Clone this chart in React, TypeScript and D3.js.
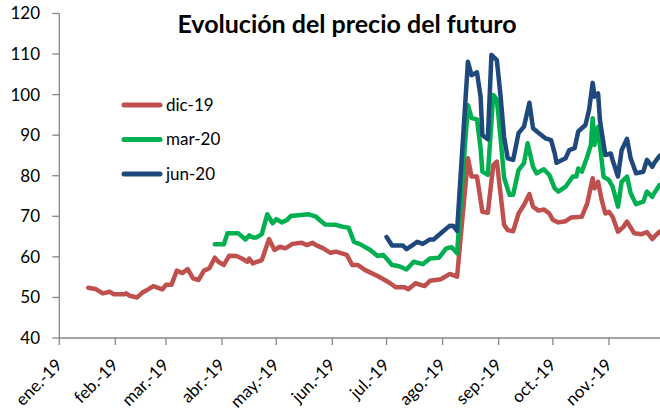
import React from "react";
import * as d3 from "d3";

const title = "Evolución del precio del futuro";
const seriesNames = ["dic-19", "mar-20", "jun-20"];
const seriesColors = ["#C0504D", "#00B050", "#1F497D"];
const monthLabels = ["ene.-19", "feb.-19", "mar.-19", "abr.-19", "may.-19", "jun.-19", "jul.-19", "ago.-19", "sep.-19", "oct.-19", "nov.-19"];
const yTicks = [40, 50, 60, 70, 80, 90, 100, 110, 120];

const dic19Dates = ["01-17","01-21","01-25","01-29","01-31","02-06","02-07","02-09","02-13","02-16","02-18","02-22","02-27","03-01","03-04","03-07","03-10","03-13","03-16","03-19","03-22","03-25","03-28","03-30","04-02","04-05","04-09","04-12","04-15","04-16","04-18","04-23","04-27","04-30","05-03","05-06","05-10","05-15","05-18","05-21","05-23","05-27","05-31","06-03","06-09","06-12","06-15","06-19","06-26","06-30","07-03","07-06","07-11","07-13","07-17","07-22","07-25","07-31","08-05","08-09","08-15","08-17","08-20","08-23","08-26","08-29","08-31","09-02","09-04","09-06","09-09","09-12","09-15","09-18","09-20","09-23","09-26","09-29","10-01","10-04","10-08","10-11","10-17","10-20","10-23","10-24","10-26","10-28","10-30","11-01","11-03","11-06","11-09","11-11","11-15","11-19","11-22","11-25","11-27","11-29"];
const dic19Values = [52.4,52.1,51.0,51.4,50.8,50.8,51.0,50.4,50.0,51.2,51.7,52.8,52.0,53.1,53.1,56.6,56.0,57.0,54.7,54.3,56.6,57.2,59.8,58.8,58.0,60.3,60.2,59.6,58.8,59.6,58.4,59.2,64.4,61.7,62.5,62.1,63.2,63.5,62.9,63.5,62.9,62.1,61.0,61.3,60.5,58.0,58.0,56.8,55.3,54.3,53.5,52.5,52.5,52.0,53.5,52.8,54.1,54.5,55.8,55.1,84.3,79.8,79.8,71.1,70.9,82.6,83.5,75.7,67.9,66.6,66.3,70.7,72.8,75.5,72.4,71.4,71.7,70.7,69.1,68.5,68.8,69.7,69.9,73.2,79.4,76.9,78.5,74.0,70.7,71.1,69.9,66.2,67.4,68.7,65.8,65.6,66.1,64.4,65.4,66.2];

const mar20Dates = ["03-28","04-02","04-04","04-10","04-14","04-16","04-18","04-20","04-23","04-26","04-29","05-01","05-04","05-07","05-09","05-19","05-23","05-25","05-28","06-03","06-07","06-10","06-13","06-16","06-22","06-26","06-29","07-01","07-04","07-08","07-12","07-16","07-21","07-25","07-30","08-03","08-06","08-09","08-15","08-17","08-20","08-22","08-23","08-26","08-29","08-31","09-02","09-04","09-07","09-09","09-12","09-15","09-17","09-20","09-22","09-26","09-29","10-02","10-04","10-08","10-12","10-14","10-15","10-17","10-20","10-22","10-23","10-24","10-26","10-27","10-29","11-01","11-03","11-06","11-08","11-11","11-13","11-16","11-20","11-22","11-25","11-26","11-29"];
const mar20Values = [63.1,63.1,65.8,65.8,64.3,65.3,64.8,64.8,65.6,70.5,68.3,69.3,68.5,69.1,70.1,70.5,69.9,69.1,68.0,67.9,67.4,67.2,63.7,63.2,61.7,60.2,60.5,59.6,58.0,57.7,56.9,58.8,58.2,59.6,59.8,62.1,62.4,60.9,97.4,94.2,93.9,86.8,81.0,80.2,99.9,98.8,89.6,79.5,75.3,75.3,81.4,83.1,88.0,82.2,80.6,81.6,80.2,76.9,76.1,77.3,79.8,79.8,81.8,81.0,84.7,87.6,94.2,87.6,92.1,87.6,79.8,78.9,77.3,72.4,78.5,79.8,75.7,73.0,73.6,76.1,74.8,75.7,77.7];

const jun20Dates = ["07-01","07-04","07-10","07-12","07-15","07-18","07-21","07-25","07-27","08-01","08-05","08-07","08-09","08-15","08-17","08-20","08-22","08-23","08-26","08-28","08-31","09-02","09-04","09-06","09-09","09-12","09-15","09-18","09-20","09-23","09-27","09-30","10-02","10-03","10-08","10-10","10-13","10-15","10-19","10-21","10-23","10-24","10-26","10-27","10-30","11-02","11-03","11-06","11-08","11-11","11-13","11-16","11-20","11-22","11-25","11-26","11-29"];
const jun20Values = [64.9,62.8,62.8,61.9,62.8,63.7,63.2,64.3,64.3,66.2,67.7,67.6,66.4,108.1,104.8,105.5,99.5,90.0,89.0,109.8,108.5,99.9,89.6,84.3,83.9,90.5,92.1,98.0,91.7,90.6,89.2,88.8,85.5,83.2,84.3,86.3,86.8,90.9,92.5,96.2,102.9,99.5,100.3,93.7,85.1,85.5,83.9,79.8,86.3,89.1,84.3,80.6,81.0,83.9,82.2,83.1,84.9];

const parse = d3.timeParse("%Y-%m-%d");
const font = "Lato, 'Open Sans', sans-serif";

export default function App() {
  const W = 660, H = 418;
  const x = d3.scaleTime()
    .domain([new Date(2019, 0, 1), new Date(2019, 11, 1)])
    .range([59.3, 663.2]);
  const y = d3.scaleLinear().domain([40, 120]).range([338, 13.5]);
  const axisColor = "#868686";

  const series = [
    { dates: dic19Dates, values: dic19Values },
    { dates: mar20Dates, values: mar20Values },
    { dates: jun20Dates, values: jun20Values },
  ].map((s, i) => ({
    name: seriesNames[i],
    color: seriesColors[i],
    points: s.dates.map((d, j) => [parse("2019-" + d) as Date, s.values[j]] as [Date, number]),
  }));

  const line = d3.line<[Date, number]>().x(d => x(d[0])).y(d => y(d[1]));
  const monthTicks = d3.timeMonth.range(new Date(2019, 0, 1), new Date(2019, 11, 1));
  const x0 = x.range()[0];
  const y0 = y(40);

  return (
    <div style={{ position: "absolute", left: 0, top: 0 }}>
      <svg width={W} height={H} style={{ display: "block", background: "#fff" }}>
        <defs>
          <clipPath id="plot">
            <rect x={x0} y={0} width={W - x0} height={y0 + 2} />
          </clipPath>
        </defs>
        <text x={347} y={33} textAnchor="middle" fontFamily={font} fontWeight="bold" fontSize={25} fill="#000">{title}</text>

        {/* y axis */}
        <line x1={x0} x2={x0} y1={y(120)} y2={y0} stroke={axisColor} strokeWidth={1.3} />
        {yTicks.map(t => (
          <g key={t}>
            <line x1={x0 - 7} x2={x0} y1={y(t)} y2={y(t)} stroke={axisColor} strokeWidth={1.3} />
            <text x={40} y={y(t)} dy="0.35em" textAnchor="end" fontFamily={font} fontSize={17} fill="#000">{t}</text>
          </g>
        ))}

        {/* x axis */}
        <line x1={x0} x2={W} y1={y0} y2={y0} stroke={axisColor} strokeWidth={1.3} />
        {monthTicks.map((m, i) => {
          const tx = x(m);
          return (
            <g key={i}>
              <line x1={tx} x2={tx} y1={y0} y2={y0 + 7} stroke={axisColor} strokeWidth={1.3} />
              <text transform={`translate(${tx + 4},${y0 + 28}) rotate(-45)`} textAnchor="end" fontFamily={font} fontSize={17} fill="#000">{monthLabels[i]}</text>
            </g>
          );
        })}

        {/* lines */}
        <g clipPath="url(#plot)">
          {series.map(s => (
            <path key={s.name} d={line(s.points) || ""} fill="none" stroke={s.color} strokeWidth={4.5} strokeLinejoin="round" strokeLinecap="round" />
          ))}
        </g>

        {/* legend */}
        {series.map((s, i) => {
          const ly = 105 + i * 34.5;
          return (
            <g key={s.name}>
              <line x1={124} x2={160} y1={ly} y2={ly} stroke={s.color} strokeWidth={5} strokeLinecap="round" />
              <text x={166} y={ly} dy="0.35em" fontFamily={font} fontSize={17} fill="#000">{s.name}</text>
            </g>
          );
        })}
      </svg>
    </div>
  );
}
